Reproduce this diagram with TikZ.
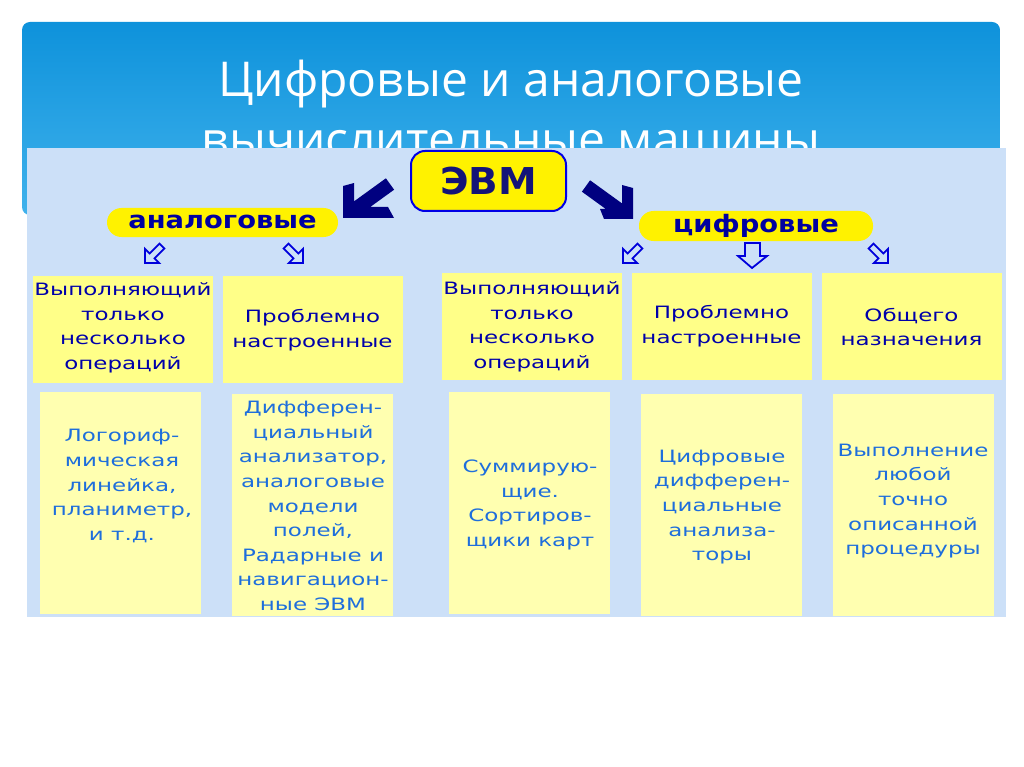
\documentclass[tikz,border=0pt]{standalone}
\usepackage{fontspec}
\newfontfamily\titlefont{Open Sans}
\newfontfamily\boxfont[FakeStretch=1.35]{DejaVu Sans}
\newfontfamily\ovalfont[FakeStretch=1.14]{DejaVu Sans}
\newfontfamily\evmfont[FakeStretch=1.05]{DejaVu Sans}
\definecolor{titletop}{RGB}{14,146,219}
\definecolor{titlebot}{RGB}{64,178,236}
\definecolor{panelbg}{RGB}{204,224,248}
\definecolor{yelA}{RGB}{255,255,136}
\definecolor{yelB}{RGB}{255,255,176}
\definecolor{navyc}{RGB}{0,0,128}
\definecolor{ovaltext}{RGB}{0,0,160}
\definecolor{txtA}{RGB}{0,0,170}
\definecolor{txtB}{RGB}{30,110,220}
\definecolor{smblue}{RGB}{0,0,220}
\definecolor{evmborder}{RGB}{0,0,230}
\definecolor{evmtext}{RGB}{20,20,120}
\tikzset{
  boxA/.style={fill=yelA, minimum width=180pt, minimum height=107pt, inner sep=0pt},
  boxB/.style={fill=yelB, minimum width=161pt, minimum height=222pt, inner sep=0pt},
  txtA/.style={text=txtA, align=center, inner sep=0pt, font=\boxfont\fontsize{17}{24.5}\selectfont},
  txtB/.style={text=txtB, align=center, inner sep=0pt, font=\boxfont\fontsize{17}{24.6}\selectfont},
  ovalbox/.style={fill=yellow, rounded corners=14.5pt, inner sep=0pt, text=ovaltext,
    font=\ovalfont\bfseries\fontsize{24}{24}\selectfont, text height=13pt, text depth=0pt},
  smarrow/.style={draw=smblue, line width=1.8pt, line join=miter},
  bigarrow/.style={fill=navyc},
  titletext/.style={text=white, font=\titlefont\fontsize{48}{48}\selectfont, anchor=base, inner sep=0pt}
}
\begin{document}
\begin{tikzpicture}[x=1pt,y=-1pt]
\useasboundingbox (0,0) rectangle (1024,767);
\fill[white] (0,0) rectangle (1024,767);
% title band
\node[top color=titletop, bottom color=titlebot, rounded corners=8pt, minimum width=978pt,
  minimum height=193pt, inner sep=0pt] (titlebg) at (511,118.5) {};
\node[titletext] (title1) at (511,97) {Цифровые и аналоговые};
\node[titletext] (title2) at (511,157) {вычислительные машины};
% panel
\node[fill=panelbg, minimum width=979pt, minimum height=469pt, inner sep=0pt] (panel) at (516.5,382.5) {};
% EVM
\node[fill=yellow, draw=evmborder, line width=2pt, rounded corners=14pt, minimum width=155pt,
  minimum height=60pt, inner sep=0pt, text=evmtext, font=\evmfont\bfseries\fontsize{37}{37}\selectfont,
  text height=27pt, text depth=0pt] (evm) at (488.5,181) {ЭВМ};
% ovals
\node[ovalbox, minimum width=231pt, minimum height=29pt] (analog) at (222.5,222.5) {аналоговые};
\node[ovalbox, minimum width=234pt, minimum height=30pt] (digital) at (756,226) {цифровые};
% big arrows
\fill[bigarrow] (343,186) -- (354,183) -- (354,201.4) -- (385.9,178.3) -- (394.1,189.7)
  -- (370.2,207) -- (388,207) -- (394,218) -- (343,218) -- cycle;
\fill[bigarrow] (633,188) -- (622,185) -- (622,203.4) -- (590.1,180.3) -- (581.9,191.7)
  -- (605.8,209) -- (600,209) -- (604,219) -- (633,219) -- cycle;
% small arrows
\draw[smarrow, shift={(145,263)}] (0,0) -- (14.14,0) -- (9.54,-4.6) -- (19.44,-14.5)
  -- (14.5,-19.44) -- (4.6,-9.54) -- (0,-14.14) -- cycle;
\draw[smarrow, shift={(303,263)}] (0,0) -- (-14.14,0) -- (-9.54,-4.6) -- (-19.44,-14.5)
  -- (-14.5,-19.44) -- (-4.6,-9.54) -- (0,-14.14) -- cycle;
\draw[smarrow, shift={(623,263)}] (0,0) -- (14.14,0) -- (9.54,-4.6) -- (19.44,-14.5)
  -- (14.5,-19.44) -- (4.6,-9.54) -- (0,-14.14) -- cycle;
\draw[smarrow] (752,268) -- (738,256) -- (745,256) -- (745,243) -- (760,243) -- (760,256)
  -- (767,256) -- cycle;
\draw[smarrow, shift={(888,263)}] (0,0) -- (-14.14,0) -- (-9.54,-4.6) -- (-19.44,-14.5)
  -- (-14.5,-19.44) -- (-4.6,-9.54) -- (0,-14.14) -- cycle;
% row 1
\node[boxA] (a1) at (123,329) {};
\node[boxA] (a2) at (312.5,329) {};
\node[boxA] (d1) at (532,326) {};
\node[boxA] (d2) at (721.5,326) {};
\node[boxA] (d3) at (911.5,326) {};
\node[txtA] (a1t) at (123,328) {Выполняющий\\только\\несколько\\операций};
\node[txtA] (a2t) at (312.5,330) {Проблемно\\настроенные};
\node[txtA] (d1t) at (532,327) {Выполняющий\\только\\несколько\\операций};
\node[txtA] (d2t) at (721.5,326) {Проблемно\\настроенные};
\node[txtA] (d3t) at (911.5,327) {Общего\\назначения};
% row 2
\node[boxB] (b1) at (120.5,502.5) {};
\node[boxB] (b2) at (312,505) {};
\node[boxB] (b3) at (529.5,502.5) {};
\node[boxB] (b4) at (721.5,505) {};
\node[boxB] (b5) at (913.5,505) {};
\node[txtB] (b1t) at (122,486) {Логориф-\\мическая\\линейка,\\планиметр,\\и т.д.};
\node[txtB] (b2t) at (313,506) {Дифферен-\\циальный\\анализатор,\\аналоговые\\модели\\полей,\\Радарные и\\навигацион-\\ные ЭВМ};
\node[txtB] (b3t) at (530,505) {Суммирую-\\щие.\\Сортиров-\\щики карт};
\node[txtB] (b4t) at (722,507) {Цифровые\\дифферен-\\циальные\\анализа-\\торы};
\node[txtB] (b5t) at (913,501) {Выполнение\\любой\\точно\\описанной\\процедуры};
\end{tikzpicture}
\end{document}
